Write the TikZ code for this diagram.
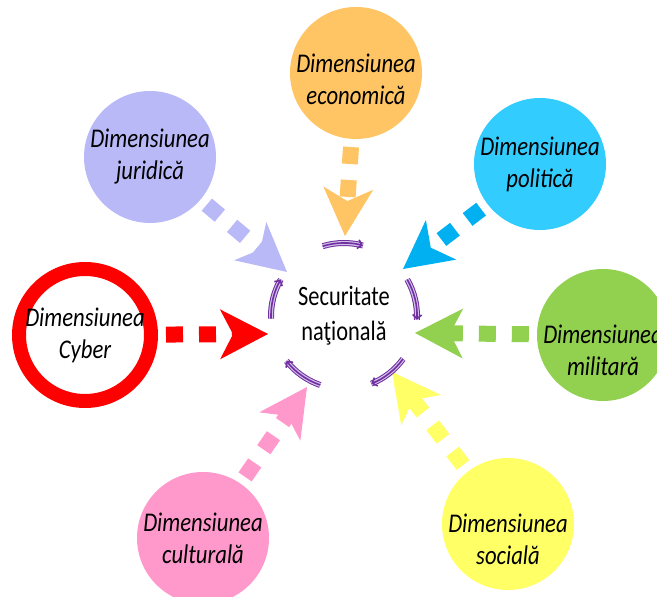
\documentclass[tikz,border=0pt]{standalone}
\usepackage{fontspec}
\usepackage{xcolor}
\usepackage{tikz}
\usetikzlibrary{arrows.meta}
\newfontfamily\dimfont{Carlito}[FakeStretch=0.84]
\newfontfamily\secfont{Carlito}[FakeStretch=0.8]
\definecolor{ecocol}{RGB}{255,197,100}
\definecolor{jurcol}{RGB}{185,185,247}
\definecolor{polcol}{RGB}{51,204,255}
\definecolor{polarr}{RGB}{0,176,240}
\definecolor{cybcol}{RGB}{255,0,0}
\definecolor{milcol}{RGB}{146,208,80}
\definecolor{culcol}{RGB}{255,153,204}
\definecolor{soccol}{RGB}{255,255,102}
\definecolor{ringcol}{RGB}{112,48,160}
\definecolor{ringfill}{RGB}{210,190,235}
\tikzstyle{dimtext}=[align=center,inner sep=0pt,font=\dimfont\itshape\fontsize{27}{32}\selectfont]
\tikzstyle{dim}=[circle,minimum size=132pt,inner sep=0pt,dimtext]
\tikzstyle{sectext}=[align=center,font=\secfont\fontsize{28}{35}\selectfont]
\tikzstyle{flow}=[line width=16pt,dash pattern=on 17pt off 16pt,shorten <=8pt,-{Stealth[length=48pt,width=50pt,inset=13pt,line width=0pt]}]
\tikzstyle{ring}=[draw=ringcol,line width=1.6pt,-{Straight Barb[length=4pt,width=9pt]},preaction={draw=ringcol,double=ringfill,double distance=4pt,line width=1pt,-}]

\begin{document}
\begin{tikzpicture}[x=1pt,y=1pt]
    \clip (0,0) rectangle (657,597);
    % cercurile
    \node[dim,fill=ecocol,label={[dimtext,yshift=-6pt]center:Dimensiunea\\economică}] (eco) at (356,524) {};
    \node[dim,fill=jurcol] (jur) at (150,440) {Dimensiunea\\juridică};
    \node[dim,fill=polcol] (pol) at (540,433) {Dimensiunea\\politică};
    \node[dim,draw=cybcol,line width=14pt,fill=white] (cyb) at (85,262) {Dimensiunea\\Cyber};
    \node[dim,fill=milcol,label={[dimtext,yshift=-15pt]center:Dimensiunea\\militară}] (mil) at (603,262) {};
    \node[dim,fill=culcol] (cul) at (203,59) {Dimensiunea\\culturală};
    \node[dim,fill=soccol,label={[dimtext,yshift=-15pt]center:Dimensiunea\\socială}] (soc) at (508,73) {};
    \node[sectext] (sec) at (344,281) {Securitate\\naţională};
    % varfurile sagetilor
    \coordinate (eco-t) at (345,361);
    \coordinate (jur-t) at (287,325);
    \coordinate (pol-t) at (403,328);
    \coordinate (cyb-t) at (268,263);
    \coordinate (mil-t) at (415,264);
    \coordinate (cul-t) at (307,210);
    \coordinate (soc-t) at (392,225);
    \draw[flow,ecocol] (eco) -- (eco-t);
    \draw[flow,jurcol] (jur) -- (jur-t);
    \draw[flow,polarr] (pol) -- (pol-t);
    \draw[flow,cybcol] (cyb) -- (cyb-t);
    \draw[flow,milcol] (mil) -- (mil-t);
    \draw[flow,culcol] (cul) -- (cul-t);
    \draw[flow,soccol] (soc) -- (soc-t);
    % cercul din mijloc
    \draw[ring] ([shift={(107:73)}]sec.center) arc[start angle=107,end angle=75,radius=73];
    \draw[ring] ([shift={(30:73)}]sec.center) arc[start angle=30,end angle=-3,radius=73];
    \draw[ring] ([shift={(-36:73)}]sec.center) arc[start angle=-36,end angle=-68,radius=73];
    \draw[ring] ([shift={(251:73)}]sec.center) arc[start angle=251,end angle=218,radius=73];
    \draw[ring] ([shift={(182:73)}]sec.center) arc[start angle=182,end angle=150,radius=73];
\end{tikzpicture}
\end{document}
